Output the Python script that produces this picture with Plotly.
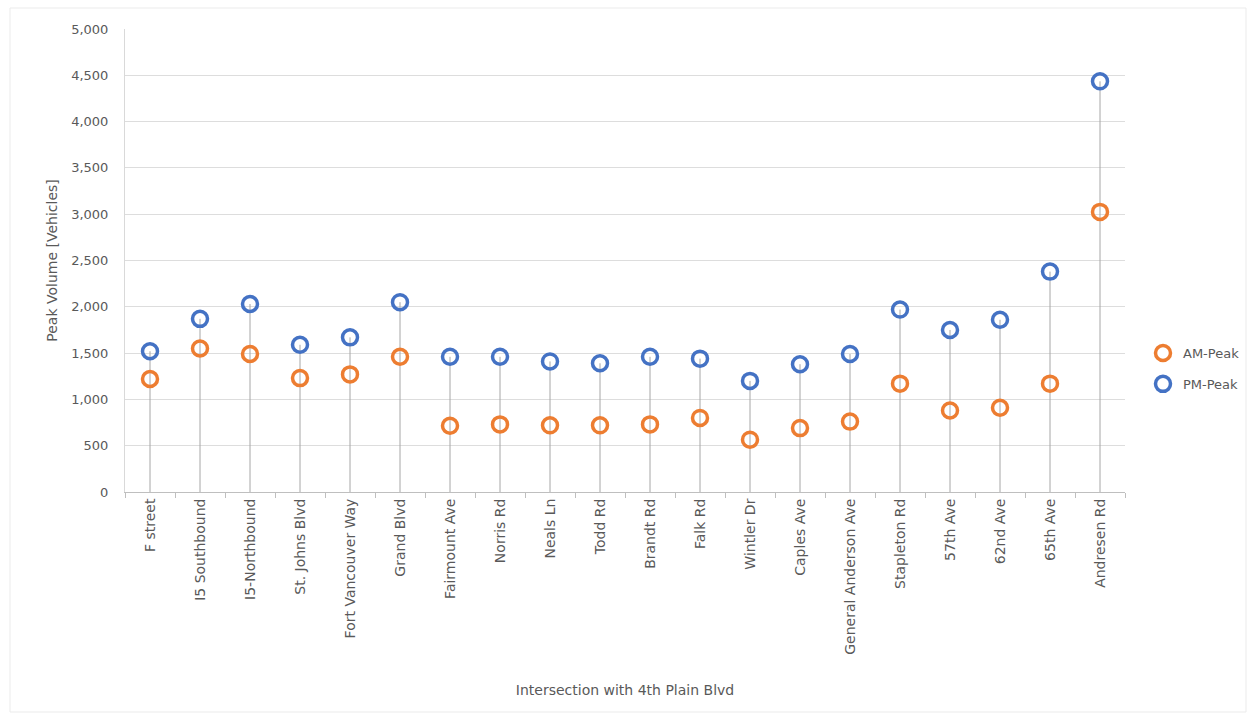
import plotly.graph_objects as go

categories = ["F street", "I5 Southbound", "I5-Northbound", "St. Johns Blvd", "Fort Vancouver Way",
              "Grand Blvd", "Fairmount Ave", "Norris Rd", "Neals Ln", "Todd Rd", "Brandt Rd",
              "Falk Rd", "Wintler Dr", "Caples Ave", "General Anderson Ave", "Stapleton Rd",
              "57th Ave", "62nd Ave", "65th Ave", "Andresen Rd"]
am_peak = [1220, 1550, 1490, 1230, 1270, 1460, 715, 730, 720, 720, 730, 800, 565, 690, 760,
           1170, 880, 910, 1170, 3025]
pm_peak = [1520, 1870, 2030, 1590, 1670, 2050, 1460, 1460, 1410, 1390, 1460, 1440, 1200, 1380,
           1490, 1970, 1750, 1860, 2380, 4435]
y_ticks = [0, 500, 1000, 1500, 2000, 2500, 3000, 3500, 4000, 4500, 5000]

font_family = "DejaVu Sans, Verdana, sans-serif"
gray_text = "#595959"

# drop lines from top point to axis
stem_x, stem_y = [], []
for c, a, p in zip(categories, am_peak, pm_peak):
    stem_x += [c, c, None]
    stem_y += [0, max(a, p), None]

fig = go.Figure()
fig.add_trace(go.Scatter(x=stem_x, y=stem_y, mode="lines", line=dict(color="#A6A6A6", width=1),
                         showlegend=False, hoverinfo="skip"))
fig.add_trace(go.Scatter(x=categories, y=am_peak, mode="markers", name="AM-Peak", legendgroup="am",
                         marker=dict(symbol="circle-open", size=15, color="#ED7D31",
                                     line=dict(width=3.5, color="#ED7D31"))))
fig.add_trace(go.Scatter(x=categories, y=pm_peak, mode="markers", name="PM-Peak", legendgroup="pm",
                         marker=dict(symbol="circle-open", size=15, color="#4472C4",
                                     line=dict(width=3.5, color="#4472C4"))))

L, R, T, B = 125, 129, 29, 227
pw = 1254 - L - R
ph = 719 - T - B

fig.update_layout(
    width=1254, height=719,
    margin=dict(l=L, r=R, t=T, b=B, autoexpand=False),
    paper_bgcolor="white", plot_bgcolor="white",
    font=dict(family=font_family, size=13, color=gray_text),
    xaxis=dict(
        type="category", categoryorder="array", categoryarray=categories,
        tickangle=-90, tickfont=dict(size=14, color=gray_text),
        showgrid=False, showline=True, linecolor="#BFBFBF", linewidth=1,
        ticks="outside", tickson="boundaries", ticklen=5, tickcolor="#BFBFBF",
        range=[-0.5, len(categories) - 0.5],
        title=dict(text="Intersection with 4th Plain Blvd", font=dict(size=14, color=gray_text),
                   standoff=31),
    ),
    yaxis=dict(
        range=[0, 5000], tickvals=y_ticks, tickformat=",", tickfont=dict(size=13, color=gray_text),
        showgrid=True, gridcolor="#DDDDDD", gridwidth=1,
        showline=True, linecolor="#D9D9D9", linewidth=1,
        zeroline=False, ticks="", ticklen=0, ticklabelstandoff=13,
        title=dict(text="Peak Volume [Vehicles]", font=dict(size=14, color=gray_text), standoff=10),
    ),
    legend=dict(x=(1143 - L) / pw, y=1 - (338 - T) / ph, xanchor="left", yanchor="top",
                font=dict(size=13, color=gray_text), traceorder="grouped", tracegroupgap=11,
                bgcolor="rgba(0,0,0,0)", itemwidth=30),
    showlegend=True,
)

fig.add_shape(type="rect", xref="paper", yref="paper",
              x0=(10 - L) / pw, x1=(1246 - L) / pw, y0=1 - (712 - T) / ph, y1=1 - (8 - T) / ph,
              line=dict(color="#EBEBEB", width=1), fillcolor="rgba(0,0,0,0)", layer="below")

fig.write_html("out.html")
